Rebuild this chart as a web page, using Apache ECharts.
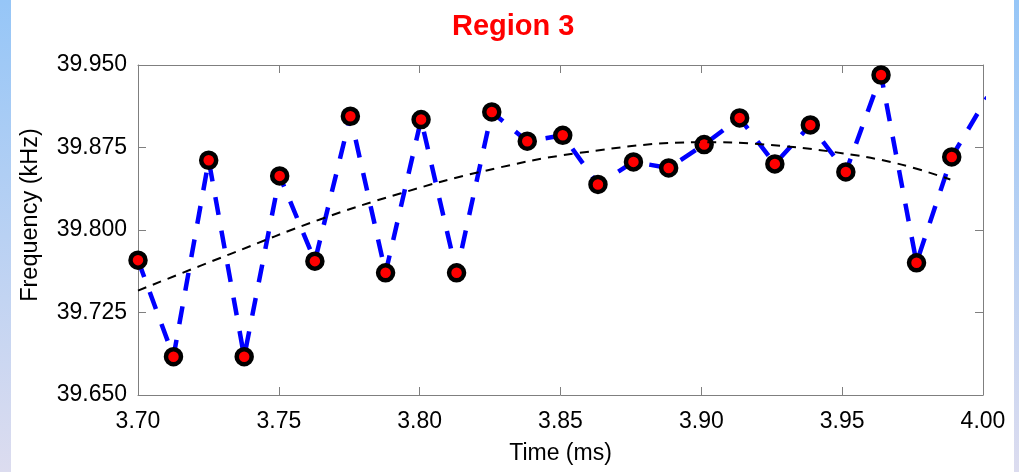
<!DOCTYPE html>
<html><head><meta charset="utf-8">
<script src="https://cdn.jsdelivr.net/npm/echarts@6/dist/echarts.min.js"></script>
<style>html,body{margin:0;padding:0;background:#fff;}#c{width:1019px;height:472px;}</style>
</head><body><div id="c"></div>
<script>
// Measured samples (time in ms, frequency in kHz)
const timeMs = [3.7000, 3.7126, 3.7251, 3.7377, 3.7503, 3.7628, 3.7754, 3.7879, 3.8005, 3.8131,
                3.8256, 3.8382, 3.8508, 3.8633, 3.8759, 3.8884, 3.9010, 3.9136, 3.9261, 3.9387,
                3.9513, 3.9638, 3.9764, 3.9889, 4.0015];
const freqKHz = [39.7726, 39.6848, 39.8634, 39.6848, 39.8492, 39.7717, 39.9034, 39.7611, 39.9004, 39.7611,
                 39.9073, 39.8807, 39.8861, 39.8414, 39.8619, 39.8564, 39.8777, 39.9019, 39.8601, 39.8955,
                 39.8528, 39.9409, 39.7702, 39.8664, 39.9207];
// Fitted trend (black dashed curve)
const fitTime = [3.7000, 3.7327, 3.7646, 3.7931, 3.8215, 3.8559, 3.9007, 3.9209, 3.9468, 3.9696, 3.9884];
const fitFreq = [39.7449, 39.7781, 39.8096, 39.8332, 39.8528, 39.8698, 39.8798, 39.8780, 39.8710, 39.8604, 39.8459];
// Axis ticks
const xTickStart = 3.70, xTickEnd = 4.00, xTickStep = 0.05;
const yTickStart = 39.650, yTickEnd = 39.950, yTickStep = 0.075;
const titleText = 'Region 3';
const xName = 'Time (ms)';
const yName = 'Frequency (kHz)';

const FONT = 'Liberation Sans, Arial, Helvetica, sans-serif';
const AX = '#7f7f7f';
const chart = echarts.init(document.getElementById('c'), null, {renderer: 'canvas'});
const measured = timeMs.map((t, i) => [t, freqKHz[i]]);
const fit = fitTime.map((t, i) => [t, fitFreq[i]]);
const bandGrad = () => new echarts.graphic.LinearGradient(0, 0, 0, 1, [
  {offset: 0, color: '#96c6f7'}, {offset: 1, color: '#dcdcef'}]);

const xBase = {
  type: 'value', min: xTickStart, max: xTickEnd, interval: xTickStep,
  axisLine: {show: true, lineStyle: {color: AX, width: 1}},
  axisTick: {show: true, inside: true, length: 8, lineStyle: {color: AX, width: 1}},
  splitLine: {show: false}
};
const yBase = {
  type: 'value', min: yTickStart, max: yTickEnd, interval: yTickStep,
  axisLine: {show: true, lineStyle: {color: AX, width: 1}},
  axisTick: {show: true, inside: true, length: 8, lineStyle: {color: AX, width: 1}},
  splitLine: {show: false}
};

chart.setOption({
  animation: false,
  backgroundColor: '#ffffff',
  title: {
    text: titleText, left: 447, top: 7,
    textStyle: {color: '#ff0000', fontSize: 29, fontWeight: 'bold', fontFamily: FONT}
  },
  graphic: [
    {type: 'rect', left: 0, top: 0, shape: {width: 11, height: 472}, style: {fill: bandGrad()}, silent: true},
    {type: 'rect', left: 1014, top: 0, shape: {width: 5, height: 472}, style: {fill: bandGrad()}, silent: true}
  ],
  grid: {left: 138, right: 36, top: 65, bottom: 77, containLabel: false, outerBoundsMode: 'none'},
  xAxis: [
    Object.assign({}, xBase, {
      position: 'bottom',
      name: xName, nameLocation: 'middle', nameGap: 47,
      nameTextStyle: {color: '#000', fontSize: 23, fontFamily: FONT},
      axisLabel: {color: '#000', fontSize: 23, fontFamily: FONT, margin: 15,
                  formatter: v => v.toFixed(2)}
    }),
    Object.assign({}, xBase, {position: 'top', axisLabel: {show: false}})
  ],
  yAxis: [
    Object.assign({}, yBase, {
      position: 'left',
      name: yName, nameLocation: 'middle', nameGap: 95, nameRotate: 90,
      nameTextStyle: {color: '#000', fontSize: 23.5, fontFamily: FONT, padding: [0, 0, 0, 30]},
      axisLabel: {color: '#000', fontSize: 23, fontFamily: FONT, margin: 11,
                  formatter: v => v.toFixed(3)}
    }),
    Object.assign({}, yBase, {position: 'right', axisLabel: {show: false}})
  ],
  series: [
    {
      type: 'line', data: measured, xAxisIndex: 0, yAxisIndex: 0, clip: true, z: 2,
      lineStyle: {color: '#0000ff', width: 4.5, type: [18, 16]},
      symbol: 'circle', symbolSize: 15, showSymbol: true,
      itemStyle: {color: '#ff0000', borderColor: '#000000', borderWidth: 4.5}
    },
    {
      type: 'line', data: fit, xAxisIndex: 0, yAxisIndex: 0, smooth: 0.4, z: 3,
      symbol: 'none', lineStyle: {color: '#000000', width: 2, type: [9, 7]}
    }
  ]
});
</script></body></html>
